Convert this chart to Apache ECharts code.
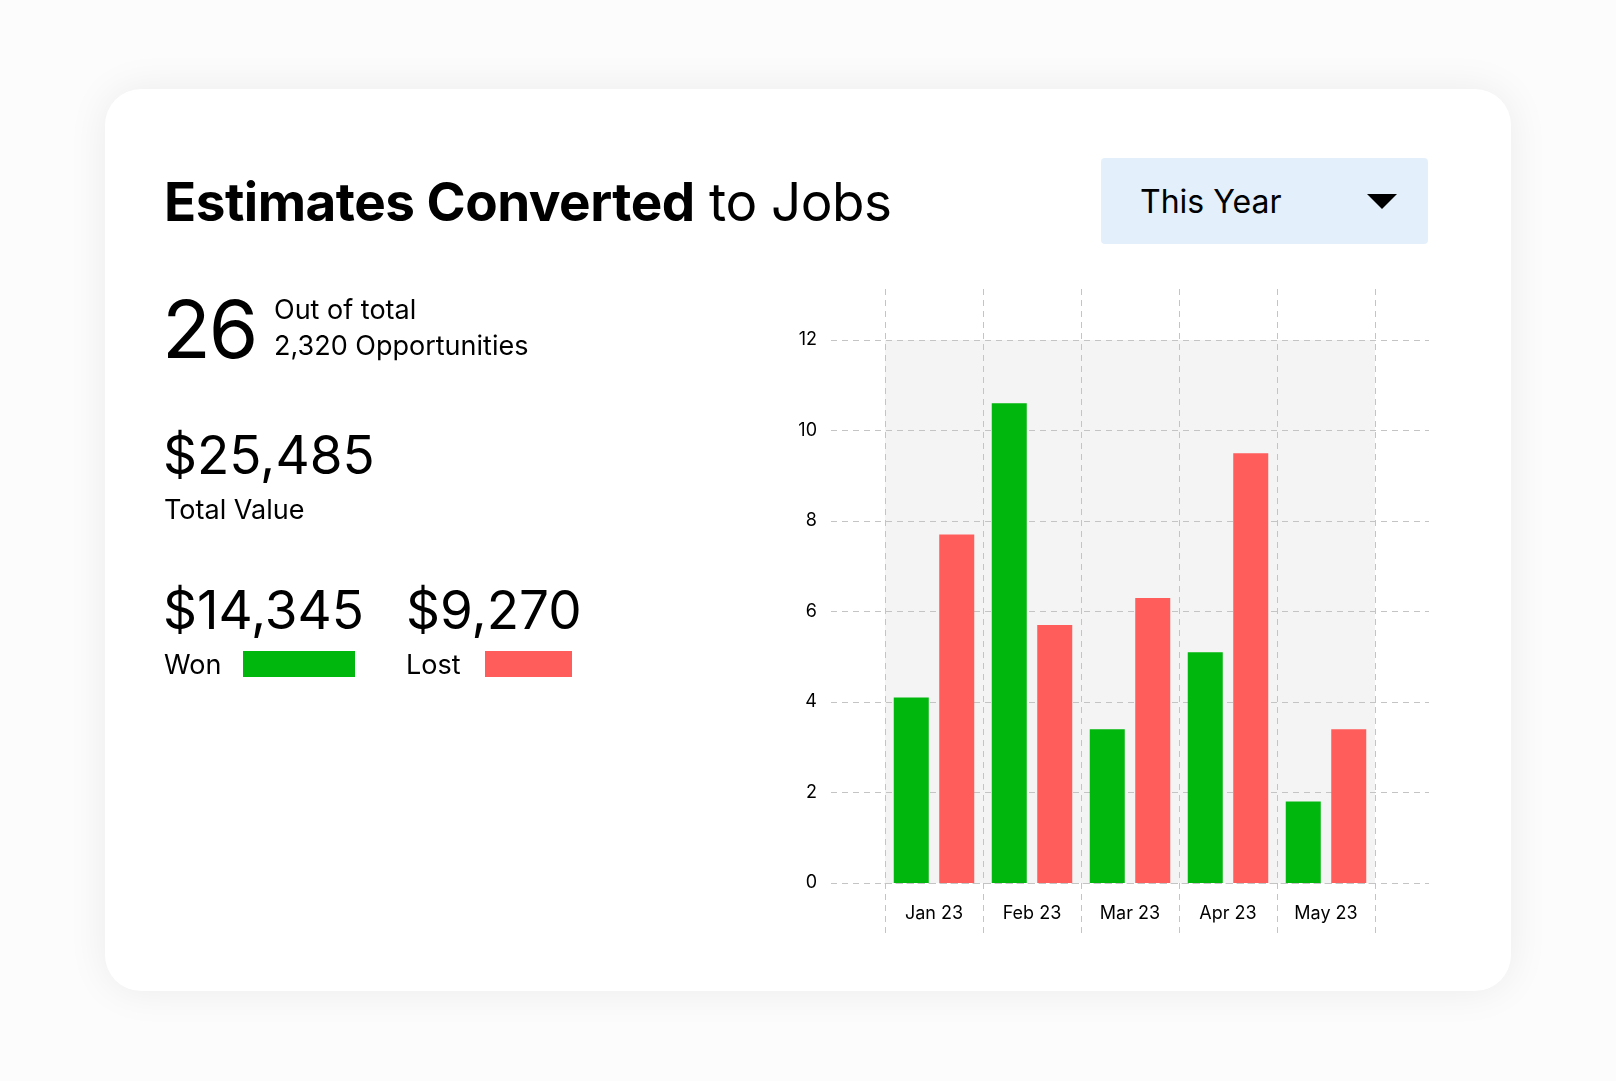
<!doctype html>
<html lang="en">
<head>
<meta charset="UTF-8">
<title>Estimates Converted to Jobs</title>
<script src="https://cdn.jsdelivr.net/npm/echarts@6/dist/echarts.min.js"></script>
<style>
  body { margin: 0; background: #fcfcfc; font-family: Inter, "Noto Sans", sans-serif; color: #000; }
  #card { position: absolute; left: 105px; top: 89px; width: 1406px; height: 902px; background: #fff;
          border-radius: 36px; box-shadow: 0 0 40px rgba(0,0,0,0.07); }
  .t { position: absolute; white-space: nowrap; }
  #chart { position: absolute; left: 0; top: 0; width: 1616px; height: 1081px; }
</style>
</head>
<body>
<div id="card"></div>
<div id="chart"></div>
<div class="t" style="left:164px;top:170px;font-size:53px;letter-spacing:-0.5px"><b>Estimates Converted</b> to Jobs</div>
<div class="t" style="left:1101px;top:158px;width:327px;height:86px;background:#e3f0fc;border-radius:4px"></div>
<div class="t" style="left:1140px;top:182px;font-size:32px">This Year</div>
<div class="t" style="left:1367px;top:194px;width:0;height:0;border-left:15px solid transparent;border-right:15px solid transparent;border-top:15px solid #000"></div>
<div class="t" style="left:162px;top:280px;font-size:80px;letter-spacing:-2px">26</div>
<div class="t" style="left:274px;top:292px;font-size:27px;line-height:36px">Out of total<br>2,320 Opportunities</div>
<div class="t" style="left:163px;top:423px;font-size:53px">$25,485</div>
<div class="t" style="left:164px;top:493px;font-size:27px">Total Value</div>
<div class="t" style="left:163px;top:578px;font-size:53px">$14,345</div>
<div class="t" style="left:406px;top:578px;font-size:53px">$9,270</div>
<div class="t" style="left:164px;top:648px;font-size:27px">Won</div>
<div class="t" style="left:243px;top:651px;width:112px;height:26px;background:#00b70d"></div>
<div class="t" style="left:406px;top:648px;font-size:27px">Lost</div>
<div class="t" style="left:485px;top:651px;width:87px;height:26px;background:#ff5c5c"></div>
<script>
  const categories = ['Jan 23', 'Feb 23', 'Mar 23', 'Apr 23', 'May 23']
  const won = [4.1, 10.6, 3.4, 5.1, 1.8]
  const lost = [7.7, 5.7, 6.3, 9.5, 3.4]
  const yTicks = [0, 2, 4, 6, 8, 10, 12]

  const chart = echarts.init(document.getElementById('chart'))
  const dash = { color: '#c4c4c4', type: [6, 5], width: 1 }
  chart.setOption({
    grid: [
      { left: 831, width: 598, top: 340, height: 543 },                 // wide horizontal grid lines
      { left: 885, width: 490, top: 340, height: 543, show: true,       // bars + shade
        backgroundColor: '#f4f4f4', borderWidth: 0 },
      { left: 885, width: 490, top: 289, height: 645 }                  // tall vertical lines
    ],
    xAxis: [
      { gridIndex: 0, type: 'category', data: categories, show: false },
      { gridIndex: 1, type: 'category', data: categories,
        axisLine: { show: true, lineStyle: dash }, axisTick: { show: false },
        axisLabel: { color: '#000', fontSize: 18, margin: 22, fontFamily: 'Inter' } },
      { gridIndex: 2, type: 'category', data: categories,
        axisLine: { show: false }, axisTick: { show: false }, axisLabel: { show: false },
        splitLine: { show: true, interval: 0, lineStyle: dash } }
    ],
    yAxis: [
      { gridIndex: 0, min: 0, max: 12, interval: 2,
        axisLine: { show: false }, axisTick: { show: false },
        axisLabel: { color: '#000', fontSize: 18, margin: 14, fontFamily: 'Inter',
          formatter: v => yTicks.includes(v) ? String(v) : '' },
        splitLine: { lineStyle: dash } },
      { gridIndex: 1, min: 0, max: 12, show: false, splitLine: { show: false } },
      { gridIndex: 2, show: false, splitLine: { show: false } }
    ],
    series: [
      { type: 'bar', name: 'Won', data: won, xAxisIndex: 1, yAxisIndex: 1,
        barWidth: 35, barGap: '30%', itemStyle: { color: '#00b70d' } },
      { type: 'bar', name: 'Lost', data: lost, xAxisIndex: 1, yAxisIndex: 1,
        barWidth: 35, barGap: '30%', itemStyle: { color: '#ff5c5c' } }
    ]
  })
</script>
</body>
</html>
